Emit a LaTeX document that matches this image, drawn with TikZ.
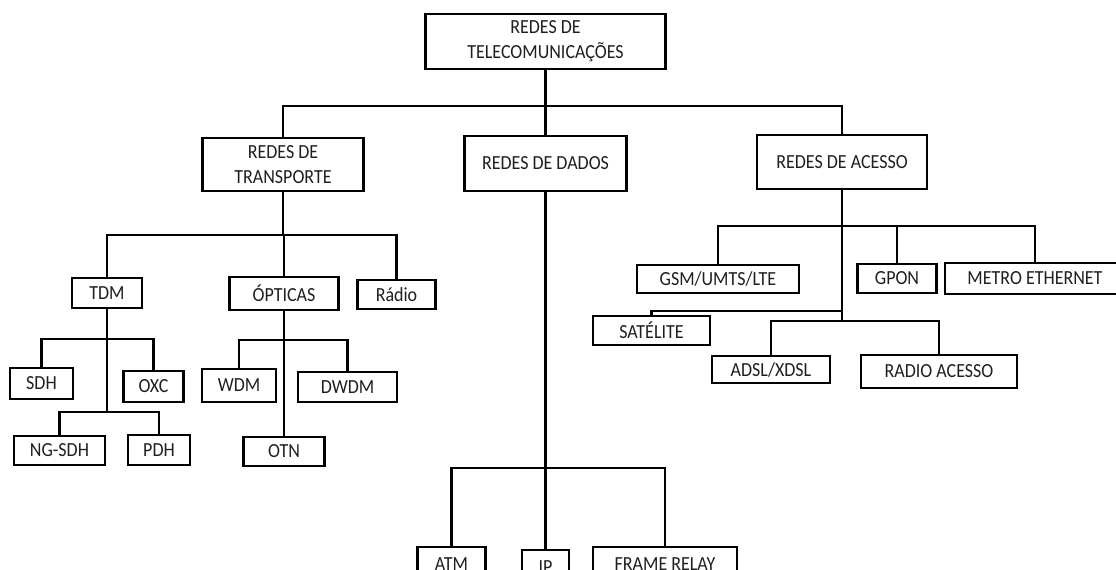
\documentclass[tikz,border=0pt]{standalone}
\usepackage{fontspec}
\setmainfont{Carlito}
\newfontfamily\boxfont[FakeStretch=0.9]{Carlito}
\begin{document}
\begin{tikzpicture}[x=1pt,y=-1pt,
  box/.style={draw=black, line width=2.7pt, fill=white, inner sep=0pt,
    align=center, text=black!88, font=\boxfont\fontsize{20}{25}\selectfont},
  link/.style={draw=black, line width=2.7pt}]
\useasboundingbox (0,0) rectangle (1116,570);
\clip (0,0) rectangle (1116,570);

% level 0 and 1
\node[box, minimum width=240, minimum height=55] (tele)   at (545.5,41.5) {REDES DE\\TELECOMUNICAÇÕES};
\node[box, minimum width=161, minimum height=53] (trans)  at (283,164.5)  {REDES DE\\TRANSPORTE};
\node[box, minimum width=162, minimum height=55] (dados)  at (545.5,163.5) {REDES DE DADOS};
\node[box, minimum width=170, minimum height=54] (acesso) at (842,162)    {REDES DE ACESSO};

% transport branch
\node[box, minimum width=70,  minimum height=30] (tdm)     at (107,293)    {TDM};
\node[box, minimum width=109, minimum height=33] (opticas) at (284,293.5)  {ÓPTICAS};
\node[box, minimum width=78,  minimum height=29] (radio)   at (396.5,294.5) {Rádio};
\node[box, minimum width=63,  minimum height=31] (sdh)     at (41.5,383.5) {SDH};
\node[box, minimum width=60,  minimum height=31] (oxc)     at (153.5,386.5) {OXC};
\node[box, minimum width=91,  minimum height=29] (ngsdh)   at (59.5,450.5) {NG-SDH};
\node[box, minimum width=62,  minimum height=30] (pdh)     at (159,450)    {PDH};
\node[box, minimum width=74,  minimum height=33] (wdm)     at (239,385.5)  {WDM};
\node[box, minimum width=99,  minimum height=30] (dwdm)    at (347.5,387)  {DWDM};
\node[box, minimum width=81,  minimum height=29] (otn)     at (284,451.5)  {OTN};

% data branch (boxes run past the lower edge)
\node[box, minimum width=68,  minimum height=34] (atm)   at (451.5,564)  {ATM};
\node[box, minimum width=47,  minimum height=34] (ip)    at (545.5,567)  {IP};
\node[box, minimum width=144, minimum height=34] (frame) at (665,564)    {FRAME RELAY};

% access branch
\node[box, minimum width=162, minimum height=28] (gsm)     at (718,279)    {GSM/UMTS/LTE};
\node[box, minimum width=79,  minimum height=29] (gpon)    at (897,278.5)  {GPON};
\node[box, minimum width=180, minimum height=31] (metro)   at (1035,278.5) {METRO ETHERNET};
\node[box, minimum width=117, minimum height=29] (sat)     at (651.5,330.5) {SATÉLITE};
\node[box, minimum width=118, minimum height=27] (adsl)    at (771,369.5)  {ADSL/XDSL};
\node[box, minimum width=156, minimum height=33] (radioac) at (939,371.5)  {RADIO ACESSO};

% bus levels
\coordinate (b0) at (545.5,106);
\coordinate (b1) at (283,235);
\coordinate (b2) at (107,339);
\coordinate (b2b) at (107,412);
\coordinate (b4) at (284,340);
\coordinate (b3) at (545.5,468);
\coordinate (b5) at (842,226);
\coordinate (b6) at (842,311);
\coordinate (b7) at (842,321);

% root
\draw[link] (trans.north) |- (b0) -| (acesso.north);
\draw[link] (tele.south) -- (dados.north);

% transport
\draw[link] (trans.south) -- (b1);
\draw[link] (tdm.north) |- (b1) -| (radio.north);
\draw[link] (opticas.north) -- (opticas.north |- b1);
\draw[link] (tdm.south) -- (b2b);
\draw[link] (sdh.north) |- (b2) -| (oxc.north);
\draw[link] (ngsdh.north) |- (b2b) -| (pdh.north);
\draw[link] (opticas.south) -- (otn.north);
\draw[link] (wdm.north) |- (b4) -| (dwdm.north);

% data
\draw[link] (dados.south) -- (b3);
\draw[link] (atm.north) |- (b3) -| (frame.north);
\draw[link] (ip.north) -- (b3);

% access
\draw[link] (acesso.south) -- (b7);
\draw[link] (gsm.north) |- (b5) -| (metro.north);
\draw[link] (gpon.north) -- (gpon.north |- b5);
\draw[link] (sat.north) |- (b6);
\draw[link] (adsl.north) |- (b7) -| (radioac.north);
\end{tikzpicture}
\end{document}
